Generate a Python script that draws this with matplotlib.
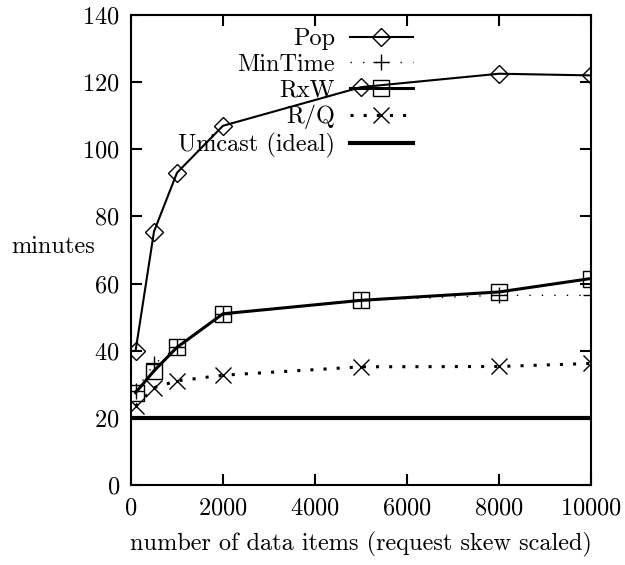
import numpy as np
import matplotlib
matplotlib.use("Agg")
import matplotlib.pyplot as plt

plt.rcParams['font.family'] = 'cmr10'
plt.rcParams['mathtext.fontset'] = 'cm'
plt.rcParams['axes.unicode_minus'] = False
plt.rcParams['axes.formatter.use_mathtext'] = True

# tiempos de espera (minutos) segun cantidad de items
items = [100, 500, 1000, 2000, 5000, 8000, 10000]
pop = [40, 75.5, 93, 107, 118.5, 122.5, 122]
mintime = [28, 36, 41, 51, 55, 56.5, 56.5]
rxw = [27.5, 34, 41, 51, 55, 57.5, 61.5]
rq = [23.5, 29, 31, 32.7, 35.2, 35.3, 36.2]
unicast = 20

fs = 17.5
fig = plt.figure(figsize=(6.25, 5.65), dpi=100)
ax = fig.add_axes([0.2096, 0.1416, 0.736, 0.8319])

ax.plot(items, pop, color='black', lw=1.5, marker='D', ms=9.5,
        mfc='none', mec='black', mew=1, label='Pop')
ax.plot(items, mintime, color='black', lw=1.0, ls=(0, (1, 8)), marker='+',
        ms=12, mew=1, label='MinTime')
ax.plot(items, rxw, color='black', lw=2.2, marker='s', ms=11,
        mfc='none', mec='black', mew=1, label='RxW')
ax.plot(items, rq, color='black', lw=2.2, ls=(0, (1, 3.3)), marker='x',
        ms=11, mew=1, label='R/Q')
ax.axhline(unicast, color='black', lw=3, label='Unicast (ideal)')

ax.set_xlim(0, 10000)
ax.set_ylim(0, 140)
ax.set_xticks(np.arange(0, 10001, 2000))
ax.set_yticks(np.arange(0, 141, 20))
ax.tick_params(direction='in', length=8, width=1.5, labelsize=fs,
               top=True, right=True, pad=8)
ax.tick_params(axis='x', pad=9)
for s in ax.spines.values():
    s.set_linewidth(1.5)

ax.set_xlabel('number of data items (request skew scaled)', fontsize=fs, labelpad=9)
ax.set_ylabel('minutes', fontsize=fs, rotation=0, ha='center', va='center')
ax.yaxis.set_label_coords(-0.17, 0.506)

ax.legend(loc='upper right', bbox_to_anchor=(0.613, 0.972), frameon=False,
          markerfirst=False, numpoints=1, fontsize=fs, handlelength=2.6,
          handletextpad=0.6, labelspacing=0.14, borderaxespad=0, borderpad=0)

fig.savefig('out.png', dpi=100)
